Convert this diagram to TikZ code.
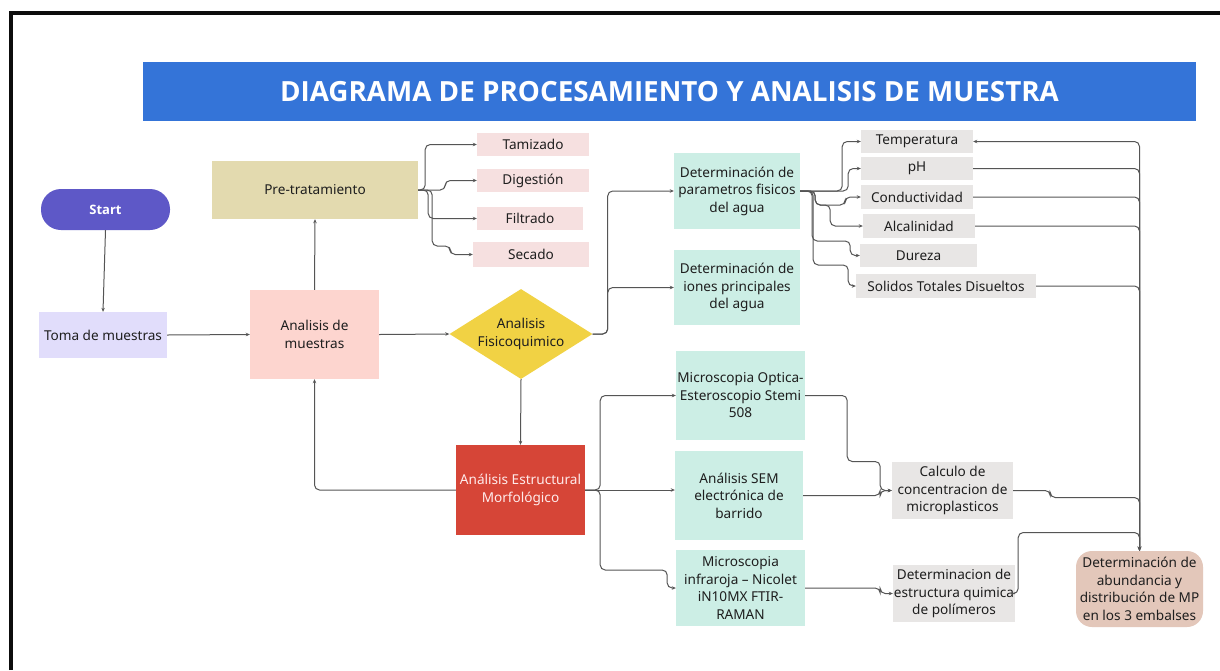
\documentclass[tikz,border=0pt]{standalone}
\usepackage{fontspec}
\setmainfont{Noto Sans}
\newfontfamily\titlefont{Open Sans}
\usetikzlibrary{shapes.geometric,arrows.meta}
\definecolor{titleblue}{RGB}{52,116,216}
\definecolor{startpurple}{RGB}{94,88,199}
\definecolor{lavender}{RGB}{225,221,251}
\definecolor{pinkbox}{RGB}{253,213,207}
\definecolor{khaki}{RGB}{227,218,175}
\definecolor{lightpink}{RGB}{246,224,224}
\definecolor{yellowd}{RGB}{241,210,68}
\definecolor{mint}{RGB}{204,238,229}
\definecolor{grayb}{RGB}{232,230,229}
\definecolor{redbox}{RGB}{214,69,55}
\definecolor{rose}{RGB}{227,199,186}
\definecolor{linec}{RGB}{85,85,85}
\definecolor{txt}{RGB}{30,30,30}
\tikzset{
  box/.style={rectangle, inner sep=0pt, align=center, text=txt,
    font=\fontsize{13.6}{17.5}\selectfont},
  conn/.style={draw=linec, line width=1pt, rounded corners=5pt},
  arr/.style={conn, -{Stealth[length=4pt,width=3.5pt]}},
}
\begin{document}
\begin{tikzpicture}[x=1pt,y=-1pt]
\useasboundingbox (0,0) rectangle (1220,670);
\fill[white] (0,0) rectangle (1220,670);
\draw[line width=4.5pt, black!95] (11,670) -- (11,13) -- (1220,13);

% title
\node[box, fill=titleblue, minimum width=1053pt, minimum height=59pt, text=white,
  font=\titlefont\bfseries\fontsize{27.8}{30}\selectfont] (title) at (669.5,91.5)
  {DIAGRAMA DE PROCESAMIENTO Y ANALISIS DE MUESTRA};

% left part
\node[box, fill=startpurple, rounded corners=20pt, minimum width=129pt, minimum height=41pt,
  text=white, font=\titlefont\bfseries\fontsize{13}{15}\selectfont] (start) at (105.5,209.5) {Start};
\node[box, fill=lavender, minimum width=128pt, minimum height=46pt] (toma) at (103,335) {Toma de muestras};
\node[box, fill=pinkbox, minimum width=129pt, minimum height=89pt] (analisis) at (314.5,334.5) {Analisis de\\muestras};
\node[box, fill=khaki, minimum width=206pt, minimum height=58pt] (pretrat) at (315,190) {Pre-tratamiento};

\node[box, fill=lightpink, minimum width=112pt, minimum height=23pt] (tamizado) at (533,144.5) {Tamizado};
\node[box, fill=lightpink, minimum width=112pt, minimum height=23pt] (digestion) at (533,180.5) {Digestión};
\node[box, fill=lightpink, minimum width=106pt, minimum height=23pt] (filtrado) at (530,218.5) {Filtrado};
\node[box, fill=lightpink, minimum width=116pt, minimum height=25pt] (secado) at (531,254.5) {Secado};

\node[box, shape=diamond, aspect=1.59, fill=yellowd, minimum width=143pt, minimum height=90pt] (fisico) at (521,334) {Analisis\\Fisicoquimico};
\node[box, fill=redbox, minimum width=129pt, minimum height=90pt, text=white!92!red] (estruct) at (520.5,490) {Análisis Estructural\\Morfológico};

% middle column
\node[box, fill=mint, minimum width=126pt, minimum height=76pt] (detfis) at (737,191) {Determinación de\\parametros fisicos\\del agua};
\node[box, fill=mint, minimum width=126pt, minimum height=75pt] (detiones) at (737,287.5) {Determinación de\\iones principales\\del agua};
\node[box, fill=mint, minimum width=129pt, minimum height=89pt] (micro) at (740.5,395.5) {Microscopia Optica-\\Esteroscopio Stemi\\508};
\node[box, fill=mint, minimum width=128pt, minimum height=89pt] (sem) at (739,495.5) {Análisis SEM\\electrónica de\\barrido};
\node[box, fill=mint, minimum width=129pt, minimum height=76pt] (infra) at (740.5,588) {Microscopia\\infraroja -- Nicolet\\iN10MX FTIR-\\RAMAN};

% parameters
\node[box, fill=grayb, minimum width=112pt, minimum height=23pt] (temp) at (917,141.5) {Temperatura};
\node[box, fill=grayb, minimum width=112pt, minimum height=23pt] (ph) at (917,168.5) {pH};
\node[box, fill=grayb, minimum width=112pt, minimum height=24pt] (cond) at (917,197) {Conductividad};
\node[box, fill=grayb, minimum width=112pt, minimum height=24pt] (alca) at (919,226) {Alcalinidad};
\node[box, fill=grayb, minimum width=117pt, minimum height=23pt] (dureza) at (918.5,255.5) {Dureza};
\node[box, fill=grayb, minimum width=180pt, minimum height=24pt] (solidos) at (946,286) {Solidos Totales Disueltos};

\node[box, fill=grayb, minimum width=121pt, minimum height=57pt] (calc) at (952.5,490.5) {Calculo de\\concentracion de\\microplasticos};
\node[box, fill=grayb, minimum width=122pt, minimum height=57pt] (estr) at (954,593.5) {Determinacion de\\estructura quimica\\de polímeros};
\node[box, fill=rose, rounded corners=16pt, minimum width=127pt, minimum height=76pt] (abund) at (1139.5,589) {Determinación de\\abundancia y\\distribución de MP\\en los 3 embalses};

% connectors - left
\draw[arr] (start.south) -- (toma.north);
\draw[arr] (toma.east) -- (analisis.west);
\draw[arr] (analisis.north) -- (pretrat.south);
\draw[arr] (analisis.east) -- (fisico.west);
\draw[arr] (fisico.south) -- (estruct.north);
\draw[arr] (estruct.west) -| (analisis.south);

% pre-tratamiento branches
\draw[arr] (pretrat.east) -- ++(7,0) |- (tamizado.west);
\draw[arr] (pretrat.east) -- ++(27,0) |- (digestion.west);
\draw[arr] (pretrat.east) -- ++(10,0) |- (filtrado.west);
\draw[arr] (pretrat.east) -- ++(14,0) -- ++(0,56) -- ++(18,0) |- (secado.west);

% fisicoquimico branches
\draw[arr] (fisico.east) -- ++(15,0) |- (detfis.west);
\draw[arr] (fisico.east) -- ++(15,0) |- (detiones.west);

% estructural branches
\draw[arr] (estruct.east) -- ++(15,0) |- (micro.west);
\draw[arr] (estruct.east) -- (estruct.east -| sem.west);
\draw[arr] (estruct.east) -- ++(15,0) -- ++(0,80) -- ++(67,0) |- (infra.west);

% to calc / estr
\draw[arr] (micro.east) -- ++(42,0) -- ++(0,66) -- ++(33,0) |- (calc.west);
\draw[arr] (sem.east) -- ++(77,0) |- (calc.west);
\draw[arr] (infra.east) -- ++(75,0) |- (estr.west);

% detfis branches
\draw[arr] (detfis.east) -- ++(42,0) |- (temp.west);
\draw[arr] (detfis.east) -- ++(48,0) |- (ph.west);
\draw[arr] (detfis.east) -- ++(15,0) -- ++(0,14) -- ++(30,0) |- (cond.west);
\draw[arr] (detfis.east) -- ++(15,0) -- ++(0,14) -- ++(15,0) |- (alca.west);
\draw[arr] (detfis.east) -- ++(12,0) -- ++(0,50) -- ++(38,0) |- (dureza.west);
\draw[arr] (detfis.east) -- ++(13,0) -- ++(0,74) -- ++(35,0) |- (solidos.west);

% collectors to abund
\draw[arr] (abund.north) |- (temp.east);
\draw[arr] (ph.east) -| (abund.north);
\draw[arr] (cond.east) -| (abund.north);
\draw[arr] (alca.east) -| (abund.north);
\draw[arr] (solidos.east) -| (abund.north);
\draw[arr] (calc.east) -- ++(37,0) -- ++(0,7) -| (abund.north);
\draw[arr] (estr.east) -- ++(3,0) -- ++(0,-61) -| (abund.north);
\end{tikzpicture}
\end{document}
